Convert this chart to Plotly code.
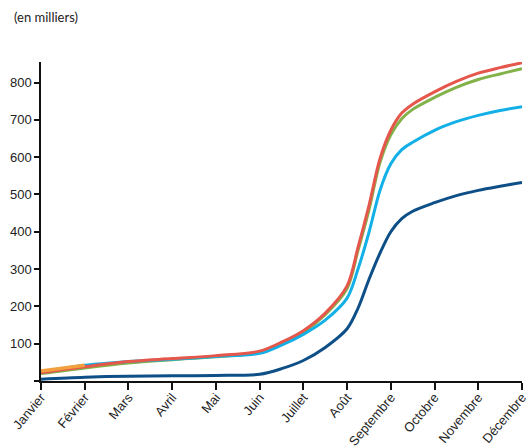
import plotly.graph_objects as go

months = ["Janvier", "Février", "Mars", "Avril", "Mai", "Juin", "Juillet",
          "Août", "Septembre", "Octobre", "Novembre", "Décembre"]

# positions (0 = Janvier ... 11 = Décembre)
x_pos = [0, 1, 2, 3, 4, 5, 5.5, 6, 6.5, 7, 7.25, 7.5, 7.75, 8, 8.25, 8.5, 9, 9.5, 10, 10.5, 11]

dark_blue = [5, 10, 13, 14, 15, 18, 33, 55, 90, 140, 195, 272, 342, 400, 435, 455, 478, 497, 511, 522, 532]
green = [20, 35, 48, 57, 65, 77, 100, 131, 178, 248, 350, 458, 585, 660, 703, 728, 760, 787, 808, 823, 837]
cyan = [22, 42, 52, 58, 66, 74, 96, 125, 163, 222, 300, 398, 510, 582, 620, 640, 672, 695, 712, 725, 735]
red = [22, 38, 52, 60, 68, 80, 104, 135, 182, 255, 358, 470, 595, 672, 718, 742, 775, 803, 825, 840, 853]

orange_x = [0, 1]
orange = [27, 42]

y_ticks = [0, 100, 200, 300, 400, 500, 600, 700, 800]
y_labels = ["", "100", "200", "300", "400", "500", "600", "700", "800"]

fig = go.Figure()
series = [
    (dark_blue, "#0d4f86"),
    (green, "#83b24a"),
    (cyan, "#12b0e6"),
    (red, "#e5564b"),
]
for vals, col in series:
    fig.add_trace(go.Scatter(x=x_pos, y=vals, mode="lines",
                             line=dict(color=col, width=3, shape="spline", smoothing=0.9),
                             cliponaxis=False, hoverinfo="skip"))
fig.add_trace(go.Scatter(x=orange_x, y=orange, mode="lines",
                         line=dict(color="#f2a03d", width=3.5),
                         cliponaxis=False, hoverinfo="skip"))

fig.update_layout(
    width=531, height=448,
    margin=dict(l=41, r=9, t=62, b=67),
    paper_bgcolor="white", plot_bgcolor="white",
    showlegend=False,
    font=dict(family="Liberation Sans, Arial, sans-serif", size=13, color="#222"),
)
fig.update_xaxes(
    range=[0, 11], tickmode="array", tickvals=list(range(12)), ticktext=months,
    tickangle=-50, showgrid=False, zeroline=False, automargin=False,
    ticklabeloverflow="allow", ticklabelstandoff=-5,
    showline=True, linecolor="#111", linewidth=1.5,
    ticks="outside", ticklen=7, tickwidth=1.5, tickcolor="#111",
    tickfont=dict(size=13),
)
fig.update_yaxes(
    range=[0, 855], tickmode="array", tickvals=y_ticks, ticktext=y_labels,
    showgrid=False, zeroline=False, automargin=False,
    showline=True, linecolor="#111", linewidth=1.5,
    ticks="outside", ticklen=5, tickwidth=1.5, tickcolor="#111",
    tickfont=dict(size=13),
)
fig.add_annotation(text="(en milliers)", xref="paper", yref="paper",
                   x=-0.06, y=1.141, xanchor="left", yanchor="middle",
                   showarrow=False, font=dict(family="Lato, Open Sans, sans-serif", size=13, color="#222"))

fig.write_html("out.html", config={"displayModeBar": False},
               post_script="document.body.style.margin='0';")
